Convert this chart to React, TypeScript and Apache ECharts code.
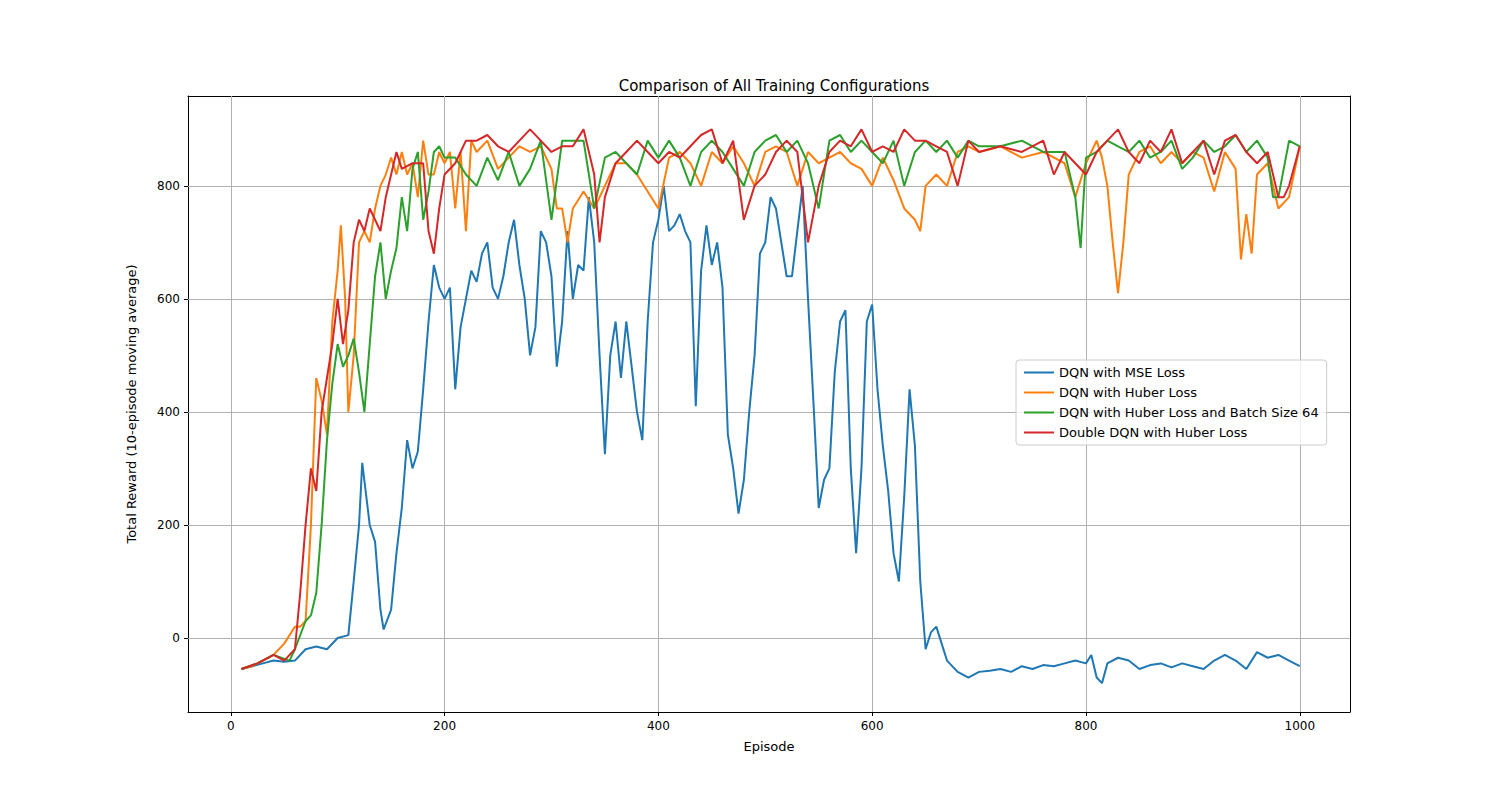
import React, { useEffect, useRef } from 'react';
import * as echarts from 'echarts';

const seriesNames = [
  'DQN with MSE Loss',
  'DQN with Huber Loss',
  'DQN with Huber Loss and Batch Size 64',
  'Double DQN with Huber Loss',
];
const colors = ['#1f77b4', '#ff7f0e', '#2ca02c', '#d62728'];

const mse: number[][] = [
  [10, -55], [20, -50], [30, -45], [40, -40], [50, -42], [60, -40], [70, -20], [80, -15], [90, -20], [100, 0],
  [110, 5], [115, 100], [120, 200], [123, 310], [130, 200], [135, 170], [140, 50], [143, 15], [150, 50], [155, 150],
  [160, 230], [165, 350], [170, 300], [175, 330], [180, 440], [185, 560], [190, 660], [195, 620], [200, 600], [205, 620],
  [210, 440], [215, 550], [220, 600], [225, 650], [230, 630], [235, 680], [240, 700], [245, 620], [250, 600], [255, 640],
  [260, 700], [265, 740], [270, 660], [275, 600], [280, 500], [285, 550], [290, 720], [295, 700], [300, 640], [305, 480],
  [310, 560], [315, 720], [320, 600], [325, 660], [330, 650], [335, 780], [340, 700], [345, 500], [350, 325], [355, 500],
  [360, 560], [365, 460], [370, 560], [375, 480], [380, 400], [385, 350], [390, 560], [395, 700], [400, 740], [405, 800],
  [410, 720], [415, 730], [420, 750], [425, 720], [430, 700], [435, 410], [440, 650], [445, 730], [450, 660], [455, 700],
  [460, 620], [465, 360], [470, 300], [475, 220], [480, 280], [485, 400], [490, 500], [495, 680], [500, 700], [505, 780],
  [510, 760], [515, 700], [520, 640], [525, 640], [530, 720], [535, 800], [540, 600], [545, 420], [550, 230], [555, 280],
  [560, 300], [565, 470], [570, 560], [575, 580], [580, 300], [585, 150], [590, 300], [595, 560], [600, 590], [605, 440],
  [610, 340], [615, 260], [620, 150], [625, 100], [630, 250], [635, 440], [640, 340], [645, 100], [650, -20], [655, 10],
  [660, 20], [665, -10], [670, -40], [680, -60], [690, -70], [700, -60], [710, -58], [720, -55], [730, -60], [740, -50],
  [750, -55], [760, -48], [770, -50], [780, -45], [790, -40], [800, -45], [805, -30], [810, -70], [815, -80], [820, -45],
  [830, -35], [840, -40], [850, -55], [860, -48], [870, -45], [880, -52], [890, -45], [900, -50], [910, -55], [920, -40],
  [930, -30], [940, -40], [950, -55], [960, -25], [970, -35], [980, -30], [990, -40], [1000, -50],
];

const huber: number[][] = [
  [10, -55], [20, -50], [30, -40], [40, -30], [50, -10], [60, 20], [65, 20], [70, 30], [75, 200], [80, 460],
  [85, 420], [90, 360], [95, 560], [100, 650], [103, 730], [107, 600], [110, 400], [115, 500], [120, 700], [125, 720],
  [130, 700], [135, 760], [140, 800], [145, 820], [150, 850], [155, 820], [160, 860], [165, 820], [170, 840], [175, 780],
  [180, 880], [185, 820], [190, 820], [195, 860], [200, 840], [205, 860], [210, 760], [215, 860], [220, 720], [225, 880],
  [230, 860], [240, 880], [250, 830], [260, 850], [270, 870], [280, 860], [290, 870], [300, 830], [305, 760], [310, 760],
  [315, 700], [320, 760], [330, 790], [340, 760], [350, 800], [360, 840], [370, 840], [380, 820], [390, 790], [400, 760],
  [410, 850], [420, 860], [430, 840], [440, 800], [450, 860], [460, 840], [470, 870], [480, 840], [490, 800], [500, 860],
  [510, 870], [520, 860], [530, 800], [540, 860], [550, 840], [560, 850], [570, 860], [580, 840], [590, 830], [600, 800],
  [610, 850], [620, 810], [630, 760], [640, 740], [645, 720], [650, 800], [660, 820], [670, 800], [680, 860], [690, 870],
  [700, 860], [720, 870], [740, 850], [760, 860], [780, 840], [790, 780], [800, 840], [810, 880], [815, 850], [820, 800],
  [825, 700], [830, 610], [835, 700], [840, 820], [850, 860], [860, 870], [870, 840], [880, 860], [890, 840], [900, 860],
  [910, 850], [920, 790], [930, 860], [940, 830], [945, 670], [950, 750], [955, 680], [960, 820], [970, 840], [980, 760],
  [990, 780], [1000, 870],
];

const batch64: number[][] = [
  [10, -55], [25, -45], [40, -30], [55, -40], [60, -20], [70, 30], [75, 40], [80, 80], [85, 200], [90, 350],
  [95, 450], [100, 520], [105, 480], [110, 500], [115, 530], [120, 470], [125, 400], [130, 520], [135, 640], [140, 700],
  [145, 600], [150, 650], [155, 690], [160, 780], [165, 720], [170, 830], [175, 860], [180, 740], [185, 790], [190, 860],
  [195, 870], [200, 850], [210, 850], [220, 820], [230, 800], [240, 850], [250, 810], [260, 860], [270, 800], [280, 830],
  [290, 880], [300, 740], [310, 880], [320, 880], [330, 880], [340, 760], [350, 850], [360, 860], [370, 840], [380, 820],
  [390, 880], [400, 850], [410, 880], [420, 850], [430, 800], [440, 860], [450, 880], [460, 860], [470, 830], [480, 800],
  [490, 860], [500, 880], [510, 890], [520, 860], [530, 880], [540, 840], [550, 760], [560, 880], [570, 890], [580, 860],
  [590, 880], [600, 860], [610, 840], [620, 880], [630, 800], [640, 860], [650, 880], [660, 860], [670, 880], [680, 850],
  [690, 880], [700, 870], [720, 870], [740, 880], [760, 860], [780, 860], [790, 780], [795, 690], [800, 850], [810, 860],
  [820, 880], [830, 870], [840, 860], [850, 880], [860, 850], [870, 860], [880, 880], [890, 830], [900, 850], [910, 880],
  [920, 860], [930, 870], [940, 890], [950, 860], [960, 880], [970, 850], [975, 780], [980, 780], [990, 880], [1000, 870],
];

const doubleDqn: number[][] = [
  [10, -55], [25, -45], [40, -30], [50, -40], [60, -20], [65, 80], [70, 200], [75, 300], [80, 260], [85, 400],
  [90, 460], [95, 520], [100, 600], [105, 520], [110, 580], [115, 700], [120, 740], [125, 720], [130, 760], [135, 740],
  [140, 720], [145, 780], [150, 820], [155, 860], [160, 830], [170, 840], [180, 840], [185, 720], [190, 680], [195, 760],
  [200, 820], [210, 840], [220, 880], [230, 880], [240, 890], [250, 870], [260, 860], [270, 880], [280, 900], [290, 880],
  [300, 860], [310, 870], [320, 870], [330, 900], [340, 820], [345, 700], [350, 780], [360, 840], [370, 860], [380, 880],
  [390, 860], [400, 840], [410, 860], [420, 850], [430, 870], [440, 890], [450, 900], [460, 840], [470, 880], [480, 740],
  [490, 800], [500, 820], [510, 860], [520, 880], [530, 860], [540, 700], [550, 800], [560, 860], [570, 880], [580, 870],
  [590, 900], [600, 860], [610, 870], [620, 860], [630, 900], [640, 880], [650, 880], [660, 870], [670, 860], [680, 800],
  [690, 880], [700, 860], [720, 870], [740, 860], [760, 880], [770, 820], [780, 860], [790, 840], [800, 820], [810, 860],
  [820, 880], [830, 900], [840, 860], [850, 840], [860, 880], [870, 860], [880, 900], [890, 840], [900, 860], [910, 880],
  [920, 820], [930, 880], [940, 890], [950, 860], [960, 840], [970, 860], [980, 780], [985, 780], [990, 800], [1000, 870],
];

const xTicks = [0, 200, 400, 600, 800, 1000];
const yTicks = [0, 200, 400, 600, 800];

const font = 'DejaVu Sans';

const App: React.FC = () => {
  const ref = useRef<HTMLDivElement>(null);

  useEffect(() => {
    if (!ref.current) return;
    const chart = echarts.init(ref.current, undefined, { renderer: 'svg' });
    const all = [mse, huber, batch64, doubleDqn];
    const gridLine = { color: '#b0b0b0', width: 1, type: 'solid' as const };
    const frame = {
      axisLine: { show: true, onZero: false, lineStyle: { color: '#000' } },
      axisTick: { show: false },
      axisLabel: { show: false },
      splitLine: { show: false },
    };
    chart.setOption({
      animation: false,
      textStyle: { fontFamily: font },
      title: {
        text: 'Comparison of All Training Configurations',
        left: 769, top: 73, textAlign: 'center',
        textStyle: { fontFamily: font, fontSize: 15, fontWeight: 'normal', color: '#000' },
      },
      legend: {
        orient: 'vertical', left: 1016, top: 360,
        data: seriesNames,
        backgroundColor: 'rgba(255,255,255,0.8)', borderColor: '#cccccc', borderWidth: 1, borderRadius: 3,
        padding: [6, 8, 6, 8], itemGap: 7, itemWidth: 30, itemHeight: 2,
        icon: 'rect',
        textStyle: { fontFamily: font, fontSize: 13, color: '#000' },
      },
      grid: { left: 188, right: 150, top: 96, bottom: 88 },
      xAxis: [
        {
          type: 'value', min: -40, max: 1047,
          name: 'Episode', nameLocation: 'middle', nameGap: 28,
          nameTextStyle: { fontFamily: font, fontSize: 13, color: '#000' },
          axisLine: { show: true, onZero: false, lineStyle: { color: '#000' } },
          axisTick: { show: true, customValues: xTicks, length: 4, lineStyle: { color: '#000' } },
          axisLabel: { customValues: xTicks, formatter: (v: number) => String(v), fontFamily: font, fontSize: 12, color: '#000' },
          splitLine: { show: false },
        },
        { type: 'value', position: 'top', min: -40, max: 1047, ...frame },
      ],
      yAxis: [
        {
          type: 'value', min: -131, max: 959,
          name: 'Total Reward (10-episode moving average)', nameLocation: 'middle', nameGap: 50,
          nameTextStyle: { fontFamily: font, fontSize: 13, color: '#000' },
          axisLine: { show: true, onZero: false, lineStyle: { color: '#000' } },
          axisTick: { show: true, customValues: yTicks, length: 4, lineStyle: { color: '#000' } },
          axisLabel: { customValues: yTicks, formatter: (v: number) => String(v), fontFamily: font, fontSize: 12, color: '#000' },
          splitLine: { show: false },
        },
        { type: 'value', position: 'right', min: -131, max: 959, ...frame },
      ],
      series: all.map((d, i) => ({
        name: seriesNames[i],
        type: 'line',
        data: d,
        showSymbol: false,
        lineStyle: { width: 2, color: colors[i] },
        itemStyle: { color: colors[i] },
        z: 3 + i,
        ...(i === 0
          ? {
              markLine: {
                silent: true, symbol: 'none', label: { show: false }, z: 1,
                lineStyle: gridLine,
                data: [
                  ...xTicks.map((x) => ({ xAxis: x })),
                  ...yTicks.map((y) => ({ yAxis: y })),
                ],
              },
            }
          : {}),
      })),
    });
    return () => chart.dispose();
  }, []);

  return <div ref={ref} style={{ position: 'fixed', left: 0, top: 0, width: 1500, height: 800, background: '#fff' }} />;
};

export default App;
